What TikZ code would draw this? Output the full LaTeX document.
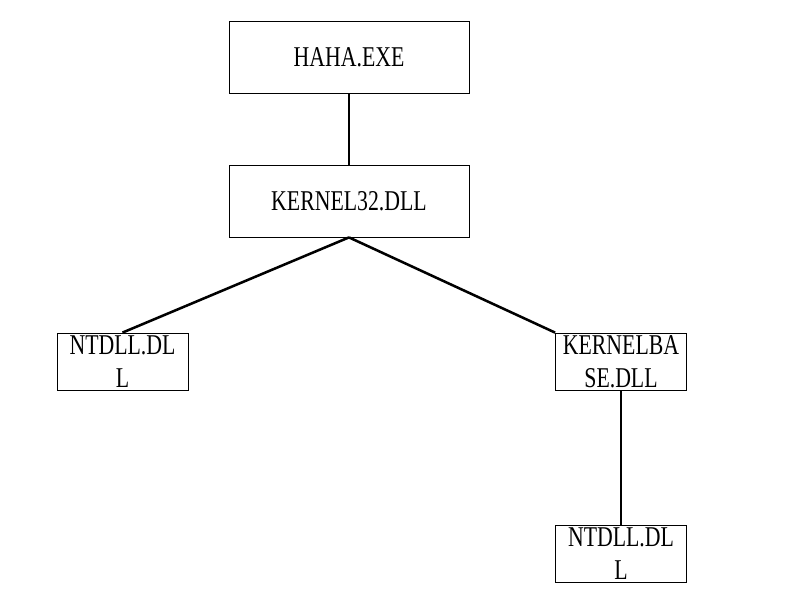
\documentclass[tikz,border=0pt]{standalone}
\usepackage{fontspec}
\setmainfont[FakeStretch=0.76]{Liberation Serif}
\usepackage{tikz}

\begin{document}
\begin{tikzpicture}
      [x = 0.75pt, y = -0.75pt,
      bigbox/.style= {
         draw,
         line width = 0.6pt,
         inner sep = 0pt,
         minimum width = 180pt,
         minimum height = 54pt,
         font = \fontsize{21.5}{24}\selectfont
      },
      smallbox/.style= {
         draw,
         line width = 0.6pt,
         inner sep = 0pt,
         minimum width = 98.25pt,
         minimum height = 42.75pt,
         align = center,
         font = \fontsize{21.5}{24.5}\selectfont
      },
      link/.style = {line width = 1.9pt}]
      \useasboundingbox (0, 0) rectangle (808, 607);

      \node[bigbox] (haha) at (349, 57) {HAHA.EXE};
      \node[bigbox] (kernel32) at (349, 201) {KERNEL32.DLL};

      \node[smallbox] (ntdll1) at (122.5, 361.5) {NTDLL.DL\\L};
      \node[smallbox] (kbase) at (621, 361.5) {KERNELBA\\SE.DLL};
      \node[smallbox] (ntdll2) at (621, 553.5) {NTDLL.DL\\L};

      \draw[link] (haha.south) -- (kernel32.north);
      \draw[link] (kernel32.south) -- (ntdll1.north);
      \draw[link] (kernel32.south) -- (kbase.north west);
      \draw[link] (kbase.south) -- (ntdll2.north);

   \end{tikzpicture}
\end{document}
